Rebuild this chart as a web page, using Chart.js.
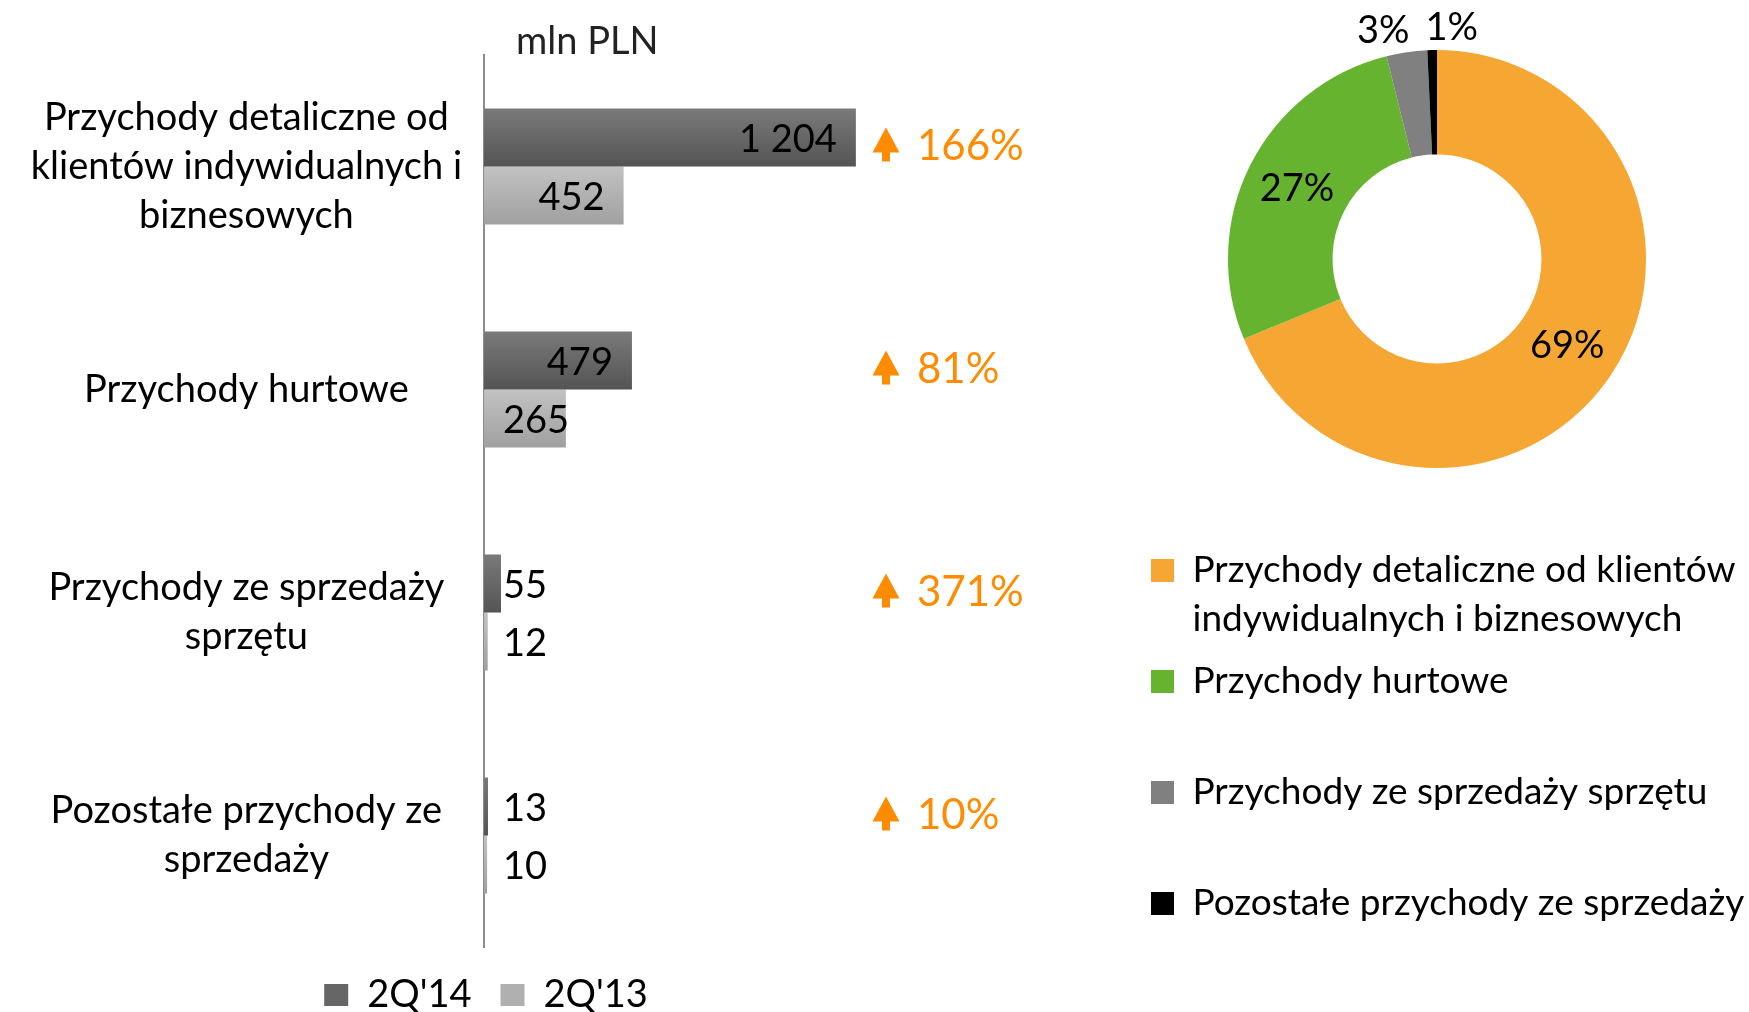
<!DOCTYPE html>
<html lang="pl">
<head>
<meta charset="utf-8">
<title>Przychody 2Q'14</title>
<script src="https://cdn.jsdelivr.net/npm/chart.js@4.4.1/dist/chart.umd.min.js"></script>
<style>
    html, body { margin: 0; padding: 0; background: #fff; overflow: hidden; width: 1749px; height: 1012px; }
    #barBox { position: absolute; left: 0; top: 0; width: 1040px; height: 1024px; }
    #pieBox { position: absolute; left: 1070px; top: 0; width: 735px; height: 932px; }
</style>
</head>
<body>
<div id="barBox"><canvas id="barChart"></canvas></div>
<div id="pieBox"><canvas id="pieChart"></canvas></div>
<script>
// dane z wykresu (mln PLN)
const categories = [
    ['Przychody detaliczne od', 'klientów indywidualnych i', 'biznesowych'],
    ['Przychody hurtowe'],
    ['Przychody ze sprzedaży', 'sprzętu'],
    ['Pozostałe przychody ze', 'sprzedaży']
];
const pieLegend = [
    ['Przychody detaliczne od klientów', 'indywidualnych i biznesowych'],
    'Przychody hurtowe',
    'Przychody ze sprzedaży sprzętu',
    'Pozostałe przychody ze sprzedaży'
];
const seriesNames = ["2Q'14", "2Q'13"];
const values2Q14 = [1204, 479, 55, 13];
const values2Q13 = [452, 265, 12, 10];
const growthLabels = ['166%', '81%', '371%', '10%'];
const unitLabel = 'mln PLN';

const FONT = 'Lato';
const ORANGE = '#ff8c00';

function fmt(v) {
    return String(v).replace(/\B(?=(\d{3})+(?!\d))/g, ' ');
}

// gradient na słupkach
const barGradient = {
    id: 'barGradient',
    beforeDatasetsDraw(chart) {
        const ctx = chart.ctx;
        chart.data.datasets.forEach((ds, di) => {
            chart.getDatasetMeta(di).data.forEach(bar => {
                const top = bar.y - bar.height / 2;
                const g = ctx.createLinearGradient(0, top, 0, top + bar.height);
                g.addColorStop(0, ds.gradient[0]);
                g.addColorStop(1, ds.gradient[1]);
                bar.options = Object.assign({}, bar.options, { backgroundColor: g });
            });
        });
    }
};

// etykiety wartości
const valueLabels = {
    id: 'valueLabels',
    afterDatasetsDraw(chart) {
        const ctx = chart.ctx;
        ctx.save();
        ctx.font = '38px ' + FONT;
        ctx.fillStyle = '#000';
        ctx.textBaseline = 'middle';
        ctx.textAlign = 'left';
        chart.data.datasets.forEach((ds, di) => {
            chart.getDatasetMeta(di).data.forEach((bar, i) => {
                const txt = fmt(ds.data[i]);
                const w = ctx.measureText(txt).width;
                const x = Math.max(bar.base + 19, bar.x - 19 - w);
                ctx.fillText(txt, x, bar.y + 2);
            });
        });
        ctx.restore();
    }
};

// strzałki z dynamiką r/r i jednostka
const growthNotes = {
    id: 'growthNotes',
    afterDraw(chart) {
        const { ctx, chartArea, scales } = chart;
        ctx.save();
        ctx.fillStyle = ORANGE;
        ctx.textBaseline = 'middle';
        growthLabels.forEach((txt, i) => {
            const cy = scales.y.getPixelForValue(i) - 22;
            const ax = chartArea.left + 402;
            ctx.beginPath();
            ctx.moveTo(ax, cy - 17);
            ctx.lineTo(ax + 13.5, cy + 8);
            ctx.lineTo(ax + 4, cy + 8);
            ctx.lineTo(ax + 4, cy + 17);
            ctx.lineTo(ax - 4, cy + 17);
            ctx.lineTo(ax - 4, cy + 8);
            ctx.lineTo(ax - 13.5, cy + 8);
            ctx.closePath();
            ctx.fill();
            ctx.font = '42px ' + FONT;
            ctx.fillText(txt, chartArea.left + 433, cy + 2);
        });
        ctx.fillStyle = '#222';
        ctx.font = '38px ' + FONT;
        ctx.fillText(unitLabel, chartArea.left + 32, 42);
        ctx.restore();
    }
};

// etykiety procentowe na pierścieniu
const sliceLabels = {
    id: 'sliceLabels',
    afterDatasetsDraw(chart) {
        const ctx = chart.ctx;
        const data = chart.data.datasets[0].data;
        const total = data.reduce((a, b) => a + b, 0);
        ctx.save();
        ctx.font = '38px ' + FONT;
        ctx.fillStyle = '#000';
        ctx.textBaseline = 'middle';
        ctx.textAlign = 'center';
        const outside = [];
        chart.getDatasetMeta(0).data.forEach((arc, i) => {
            const txt = Math.round(data[i] / total * 100) + '%';
            const mid = (arc.startAngle + arc.endAngle) / 2;
            if (data[i] / total >= 0.05) {
                const r = (arc.innerRadius + arc.outerRadius) / 2;
                ctx.fillText(txt, arc.x + r * Math.cos(mid), arc.y + r * Math.sin(mid));
            } else {
                const r = arc.outerRadius + 22;
                outside.push({ txt, x: arc.x + r * Math.cos(mid), y: arc.y + r * Math.sin(mid), w: ctx.measureText(txt).width });
            }
        });
        // rozsuń etykiety, które na siebie nachodzą
        for (let k = 1; k < outside.length; k++) {
            const a = outside[k - 1], b = outside[k];
            const need = (a.w + b.w) / 2 + 16 - Math.abs(b.x - a.x);
            if (need > 0) { a.x -= need / 2; b.x += need / 2; }
        }
        outside.forEach(o => ctx.fillText(o.txt, o.x, o.y));
        ctx.restore();
    }
};

function drawCharts() {
    Chart.defaults.font.family = FONT;
    Chart.defaults.color = '#000';
    Chart.defaults.animation = false;

    new Chart(document.getElementById('barChart'), {
        type: 'bar',
        data: {
            labels: categories,
            datasets: [
                {
                    label: seriesNames[0],
                    data: values2Q14,
                    backgroundColor: '#666666',
                    gradient: ['#7a7a7a', '#545454']
                },
                {
                    label: seriesNames[1],
                    data: values2Q13,
                    backgroundColor: '#b0b0b0',
                    gradient: ['#c2c2c2', '#a0a0a0']
                }
            ]
        },
        options: {
            indexAxis: 'y',
            responsive: true,
            maintainAspectRatio: false,
            categoryPercentage: 0.52,
            barPercentage: 1.0,
            layout: { padding: { top: 55, right: 68, left: 0, bottom: 0 } },
            scales: {
                x: { display: false, min: 0, max: 1580 },
                y: {
                    grid: { display: false, drawTicks: false },
                    border: { display: true, color: '#8c8c8c', width: 2 },
                    ticks: {
                        crossAlign: 'center',
                        padding: 22,
                        color: '#000',
                        font: { size: 38, lineHeight: 1.29 }
                    },
                    afterFit(scale) {
                        scale.width = 484;
                        scale.paddingTop = 0;
                        scale.paddingBottom = 0;
                    }
                }
            },
            plugins: {
                legend: {
                    position: 'bottom',
                    labels: {
                        boxWidth: 24,
                        boxHeight: 22,
                        padding: 29,
                        color: '#000',
                        font: { size: 38 }
                    }
                },
                tooltip: { enabled: false }
            }
        },
        plugins: [barGradient, valueLabels, growthNotes]
    });

    new Chart(document.getElementById('pieChart'), {
        type: 'doughnut',
        data: {
            labels: pieLegend,
            datasets: [{
                data: values2Q14,
                backgroundColor: ['#f6a733', '#66b32f', '#808080', '#000000'],
                borderWidth: 0
            }]
        },
        options: {
            responsive: true,
            maintainAspectRatio: false,
            radius: 209,
            cutout: '50%',
            layout: { padding: { top: 40, left: 7, right: 8, bottom: 0 } },
            plugins: {
                legend: {
                    position: 'bottom',
                    align: 'start',
                    maxHeight: 600,
                    labels: {
                        boxWidth: 23,
                        boxHeight: 23,
                        padding: 74,
                        color: '#000',
                        font: { size: 37, lineHeight: 1.3 }
                    }
                },
                tooltip: { enabled: false }
            }
        },
        plugins: [sliceLabels]
    });
}

if (document.fonts && document.fonts.load) {
    document.fonts.load('38px ' + FONT).then(drawCharts, drawCharts);
} else {
    drawCharts();
}
</script>
</body>
</html>
